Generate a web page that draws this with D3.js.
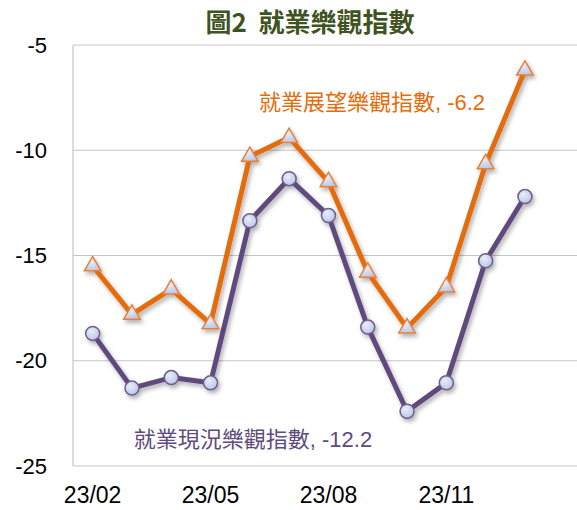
<!DOCTYPE html>
<html>
<head>
<meta charset="utf-8">
<script src="https://cdn.jsdelivr.net/npm/d3@7"></script>
<style>
  body { margin: 0; background: #fff; }
  svg text { font-family: "Liberation Sans", Arial, "Noto Sans CJK TC", sans-serif; }
</style>
</head>
<body>
<div id="chart"></div>
<script>
// --- data ---
const months = ["23/02","23/03","23/04","23/05","23/06","23/07","23/08","23/09","23/10","23/11","23/12","24/01"];
const outlook = [-15.5, -17.8, -16.6, -18.25, -10.3, -9.4, -11.5, -15.8, -18.45, -16.5, -10.65, -6.2];
const current = [-18.7, -21.3, -20.8, -21.05, -13.35, -11.35, -13.1, -18.4, -22.4, -21.05, -15.25, -12.2];
const yTicks = [-5, -10, -15, -20, -25];
const xLabels = ["23/02", "23/05", "23/08", "23/11"];

const W = 577, H = 510;
const plotLeft = 73, plotTop = 45, plotBottom = 466;
const step = 39.3;

const svg = d3.select("#chart").append("svg")
  .attr("width", W).attr("height", H);

const defs = svg.append("defs");
const sh = defs.append("filter").attr("id", "shadow")
  .attr("x", "-20%").attr("y", "-20%").attr("width", "140%").attr("height", "140%");
sh.append("feDropShadow").attr("dx", 2).attr("dy", 3).attr("stdDeviation", 2)
  .attr("flood-color", "#000").attr("flood-opacity", 0.3);

const mg = defs.append("radialGradient").attr("id", "mk").attr("cx", "40%").attr("cy", "35%").attr("r", "70%");
mg.append("stop").attr("offset", "0%").attr("stop-color", "#e8edf8");
mg.append("stop").attr("offset", "100%").attr("stop-color", "#b9c5e6");

const x = d3.scaleBand().domain(months).range([plotLeft, plotLeft + step * months.length]);
const cx = d => x(d) + x.bandwidth() / 2;
const y = d3.scaleLinear().domain([-25, -5]).range([plotBottom, plotTop]);

// gridlines
svg.append("g").selectAll("line").data(yTicks).join("line")
  .attr("x1", plotLeft).attr("x2", W)
  .attr("y1", d => y(d)).attr("y2", d => y(d))
  .attr("stroke", "#c6c6c6").attr("stroke-width", 1.2);
svg.append("line").attr("x1", plotLeft).attr("x2", plotLeft).attr("y1", plotTop).attr("y2", plotBottom)
  .attr("stroke", "#c6c6c6").attr("stroke-width", 1.2);

// y tick labels
svg.append("g").selectAll("text").data(yTicks).join("text")
  .attr("x", 47).attr("y", d => y(d)).attr("dy", "0.35em")
  .attr("text-anchor", "end").attr("font-size", 22).attr("fill", "#000")
  .text(d => d);

// x labels
svg.append("g").selectAll("text").data(xLabels).join("text")
  .attr("x", d => cx(d)).attr("y", 503)
  .attr("text-anchor", "middle").attr("font-size", 23).attr("fill", "#000")
  .text(d => d);

// title
svg.append("text").attr("x", 310).attr("y", 32).attr("text-anchor", "middle")
  .attr("font-size", 26).attr("font-weight", "bold").attr("fill", "#3f5322")
  .style("font-family", "'Noto Sans CJK TC', sans-serif")
  .style("white-space", "pre")
  .text("圖2  就業樂觀指數");

const line = d3.line().x((d, i) => cx(months[i])).y(d => y(d));

// current (purple circles)
const gC = svg.append("g").attr("filter", "url(#shadow)");
gC.append("path").datum(current).attr("d", line)
  .attr("fill", "none").attr("stroke", "#5f4a7d").attr("stroke-width", 5).attr("stroke-linejoin", "round");
gC.selectAll("circle").data(current).join("circle")
  .attr("cx", (d, i) => cx(months[i])).attr("cy", d => y(d)).attr("r", 7)
  .attr("fill", "url(#mk)").attr("stroke", "#6f5c8e").attr("stroke-width", 1.5);

// outlook (orange triangles)
const gO = svg.append("g").attr("filter", "url(#shadow)");
gO.append("path").datum(outlook).attr("d", line)
  .attr("fill", "none").attr("stroke", "#e46c0a").attr("stroke-width", 5).attr("stroke-linejoin", "round");
const tri = d3.symbol().type(d3.symbolTriangle).size(120);
gO.selectAll("path.t").data(outlook).join("path").attr("class", "t")
  .attr("d", tri)
  .attr("transform", (d, i) => `translate(${cx(months[i])},${y(d)})`)
  .attr("fill", "url(#mk)").attr("stroke", "#e8803a").attr("stroke-width", 1.5);

// series labels
svg.append("text").attr("x", 372).attr("y", 102).attr("dy", "0.35em").attr("text-anchor", "middle")
  .attr("font-size", 22).attr("fill", "#e46c0a")
  .text("就業展望樂觀指數, -6.2");
svg.append("text").attr("x", 253).attr("y", 439).attr("dy", "0.35em").attr("text-anchor", "middle")
  .attr("font-size", 22).attr("fill", "#5f4a7d")
  .text("就業現況樂觀指數, -12.2");
</script>
</body>
</html>
